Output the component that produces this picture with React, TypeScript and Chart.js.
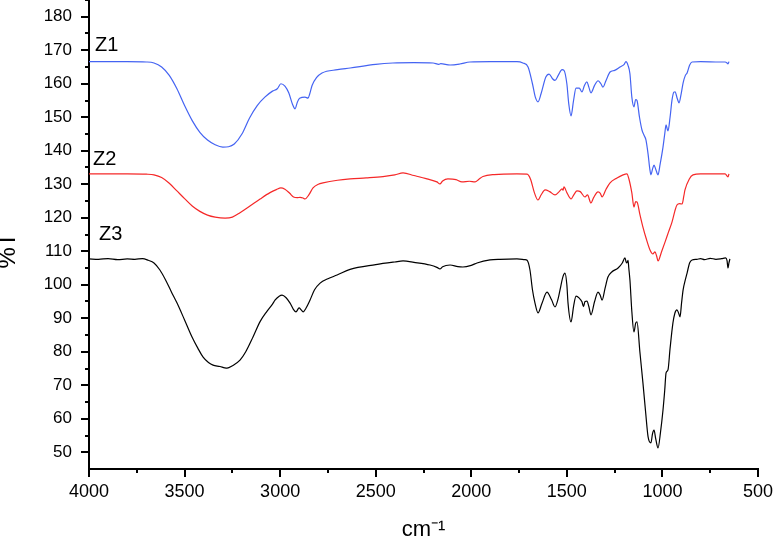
import React, { useEffect, useRef } from "react";
import { Chart, registerables } from "chart.js";

Chart.register(...registerables);

// ---- Data (wavenumber cm-1, %T) ----
const z1Wavenumbers = [4000, 3900, 3800, 3700, 3660, 3620, 3580, 3540, 3500, 3460, 3420, 3380, 3340, 3300, 3270, 3240, 3200, 3160, 3120, 3080, 3040, 3015, 2996, 2975, 2955, 2935, 2922, 2910, 2898, 2870, 2854, 2845, 2833, 2810, 2781, 2700, 2634, 2500, 2410, 2300, 2200, 2170, 2160, 2111, 2060, 2007, 1900, 1761, 1730, 1703, 1680, 1665, 1651, 1635, 1610, 1593, 1575, 1562, 1545, 1525, 1515, 1500, 1490, 1478, 1465, 1452, 1435, 1421, 1408, 1395, 1385, 1374, 1355, 1337, 1322, 1311, 1295, 1274, 1250, 1222, 1200, 1191, 1180, 1170, 1160, 1149, 1140, 1133, 1120, 1107, 1095, 1086, 1075, 1066, 1060, 1052, 1044, 1035, 1023, 1012, 997, 988, 981, 975, 971, 960, 950, 940, 934, 922, 913, 902, 892, 880, 871, 858, 845, 800, 700, 672, 662, 657, 652];
const z1Values = [166.6, 166.6, 166.6, 166.5, 166.2, 165.0, 162.5, 158.5, 153.5, 149.0, 145.5, 143.2, 141.8, 141.1, 141.2, 142.0, 145.0, 149.8, 153.5, 156.0, 157.8, 158.5, 160.0, 159.3, 157.3, 153.8, 152.5, 154.5, 155.7, 156.0, 155.7, 157.0, 159.5, 161.8, 163.2, 164.2, 164.7, 165.8, 166.2, 166.3, 166.2, 165.8, 166.0, 165.6, 165.9, 166.5, 166.6, 166.6, 166.2, 165.0, 160.0, 156.0, 154.6, 157.0, 162.0, 162.9, 161.5, 161.0, 162.5, 164.2, 164.0, 160.0, 154.0, 150.4, 155.0, 158.7, 158.7, 157.6, 159.5, 160.6, 159.0, 157.3, 159.5, 160.9, 160.0, 159.0, 161.0, 163.5, 164.0, 165.0, 165.8, 166.6, 165.5, 163.0, 156.0, 153.1, 155.3, 155.0, 150.0, 146.2, 144.5, 143.2, 139.0, 134.5, 132.8, 134.5, 135.7, 134.5, 132.8, 136.0, 141.1, 145.0, 147.7, 146.5, 145.9, 150.0, 155.1, 157.5, 157.6, 155.5, 154.3, 157.0, 160.2, 162.5, 163.2, 165.5, 166.5, 166.6, 166.5, 166.5, 166.2, 165.9, 166.6];

const z2Wavenumbers = [4000, 3800, 3700, 3660, 3620, 3580, 3540, 3500, 3460, 3420, 3380, 3340, 3288, 3250, 3210, 3158, 3105, 3053, 3020, 2996, 2975, 2950, 2930, 2910, 2896, 2880, 2870, 2850, 2828, 2800, 2776, 2700, 2634, 2550, 2462, 2400, 2357, 2300, 2232, 2180, 2164, 2150, 2122, 2080, 2049, 2010, 1980, 1960, 1939, 1880, 1761, 1708, 1690, 1670, 1651, 1635, 1614, 1590, 1562, 1540, 1525, 1520, 1515, 1500, 1478, 1462, 1447, 1430, 1405, 1392, 1374, 1360, 1337, 1325, 1316, 1295, 1274, 1240, 1206, 1186, 1175, 1160, 1149, 1140, 1133, 1118, 1102, 1085, 1065, 1050, 1039, 1030, 1023, 1005, 986, 968, 950, 935, 924, 910, 897, 888, 882, 860, 840, 800, 700, 672, 657, 652];
const z2Values = [133.1, 133.1, 133.0, 132.8, 132.0, 130.3, 128.0, 125.7, 123.5, 121.9, 120.8, 120.2, 119.9, 120.2, 121.5, 123.5, 125.6, 127.5, 128.4, 128.9, 128.5, 127.3, 126.2, 126.0, 126.1, 125.9, 125.6, 126.8, 128.9, 130.0, 130.4, 131.2, 131.6, 131.9, 132.3, 132.8, 133.4, 132.6, 131.6, 130.7, 130.1, 131.0, 131.6, 131.4, 130.7, 130.9, 130.7, 131.5, 132.3, 132.9, 133.1, 133.0, 131.5, 127.5, 125.3, 126.8, 128.3, 127.8, 126.8, 127.8, 128.6, 128.2, 129.2, 127.5, 125.6, 127.0, 128.0, 127.8, 126.2, 126.8, 124.4, 126.0, 127.7, 127.3, 126.2, 128.5, 130.4, 131.8, 132.8, 133.1, 131.5, 127.4, 123.2, 124.8, 124.7, 121.0, 117.2, 113.8, 110.4, 109.2, 109.8, 108.5, 107.1, 109.8, 112.8, 115.8, 118.7, 122.0, 123.8, 124.2, 124.1, 126.5, 128.3, 131.5, 132.8, 133.1, 133.1, 133.1, 132.2, 133.1];

const z3Wavenumbers = [4000, 3950, 3900, 3850, 3800, 3760, 3720, 3690, 3660, 3629, 3600, 3570, 3540, 3500, 3461, 3430, 3403, 3375, 3351, 3315, 3290, 3278, 3250, 3210, 3180, 3142, 3105, 3070, 3040, 3027, 3005, 2990, 2970, 2948, 2930, 2917, 2901, 2890, 2880, 2865, 2844, 2820, 2791, 2750, 2702, 2634, 2500, 2400, 2357, 2300, 2216, 2180, 2164, 2150, 2111, 2070, 2044, 2000, 1970, 1902, 1850, 1761, 1720, 1708, 1693, 1680, 1667, 1651, 1630, 1604, 1580, 1562, 1545, 1536, 1520, 1510, 1500, 1494, 1478, 1465, 1452, 1435, 1421, 1413, 1405, 1395, 1385, 1374, 1355, 1337, 1325, 1316, 1300, 1285, 1265, 1232, 1210, 1196, 1190, 1186, 1180, 1176, 1170, 1160, 1149, 1140, 1133, 1118, 1102, 1088, 1075, 1060, 1052, 1044, 1035, 1023, 1010, 997, 988, 981, 971, 960, 945, 935, 924, 915, 908, 900, 892, 880, 871, 858, 845, 820, 800, 780, 750, 720, 690, 670, 662, 657, 652, 647];
const z3Values = [107.7, 107.6, 107.8, 107.5, 107.7, 107.6, 107.8, 107.3, 106.5, 104.4, 101.5, 98.0, 94.6, 89.5, 84.4, 81.0, 78.4, 76.8, 76.0, 75.6, 75.2, 75.1, 75.8, 77.5, 80.0, 84.4, 89.0, 92.0, 94.2, 95.4, 96.6, 96.9, 96.2, 94.5, 92.6, 91.9, 93.1, 92.5, 91.9, 93.0, 95.4, 98.5, 100.5, 101.8, 102.9, 104.6, 106.0, 106.8, 107.1, 106.7, 105.9, 105.2, 104.7, 105.4, 105.9, 105.4, 105.3, 105.8, 106.5, 107.4, 107.6, 107.7, 107.5, 107.3, 104.4, 98.5, 94.6, 91.6, 94.5, 97.8, 95.5, 93.4, 96.0, 98.4, 102.5, 103.5, 100.0, 94.6, 88.9, 93.5, 96.6, 96.0, 94.9, 93.5, 95.0, 95.1, 93.5, 91.0, 95.0, 97.8, 96.8, 95.4, 99.0, 102.3, 103.8, 105.0, 106.5, 108.0, 106.8, 106.5, 107.3, 105.0, 101.4, 92.0, 85.9, 88.5, 88.9, 80.0, 70.7, 62.0, 54.6, 52.8, 55.5, 56.6, 54.0, 51.3, 56.0, 62.6, 68.5, 73.7, 74.6, 81.0, 88.6, 91.5, 92.5, 91.5, 90.4, 94.5, 98.4, 101.5, 103.5, 106.5, 107.4, 107.6, 107.8, 107.5, 107.9, 107.6, 107.8, 108.0, 107.2, 105.0, 106.5, 107.7];

const seriesNames = ["Z1", "Z2", "Z3"];
const seriesColors = ["#4463f2", "#f52828", "#000000"];
const labelWavenumbers = [3969, 3979, 3948];
const labelValues = [171.3, 137.4, 115.1];

const xTickValues = [4000, 3500, 3000, 2500, 2000, 1500, 1000, 500];
const yTickValues = [50, 60, 70, 80, 90, 100, 110, 120, 130, 140, 150, 160, 170, 180];
const xMinorStep = 250;
const yMinorStep = 5;
const yAxisTitle = "%T";
const xAxisTitle = "cm⁻¹";

const FONT = "'Liberation Sans', Arial, sans-serif";

const toPoints = (xs: number[], ys: number[]) => xs.map((x, i) => ({ x, y: ys[i] }));

const ticksPlugin = {
  id: "customTicks",
  afterDraw(chart: any) {
    const ctx = chart.ctx;
    const xs = chart.scales.x;
    const ys = chart.scales.y;
    ctx.save();
    ctx.strokeStyle = "#000";
    ctx.lineWidth = 2;
    ctx.beginPath();
    for (let v = xs.min; v <= xs.max; v += xMinorStep) {
      const px = Math.round(xs.getPixelForValue(v));
      const len = v % 500 === 0 ? 8 : 4;
      ctx.moveTo(px, ys.bottom);
      ctx.lineTo(px, ys.bottom + len);
    }
    for (let v = 50; v <= ys.max; v += yMinorStep) {
      const py = Math.round(ys.getPixelForValue(v));
      const len = v % 10 === 0 ? 8 : 4;
      ctx.moveTo(xs.left, py);
      ctx.lineTo(xs.left - len, py);
    }
    ctx.stroke();
    // series labels
    ctx.fillStyle = "#000";
    ctx.font = `20px ${FONT}`;
    ctx.textAlign = "left";
    ctx.textBaseline = "middle";
    seriesNames.forEach((n, i) => {
      ctx.fillText(n, xs.getPixelForValue(labelWavenumbers[i]), ys.getPixelForValue(labelValues[i]));
    });
    // y axis title
    ctx.save();
    ctx.translate(8, (ys.top + ys.bottom) / 2 + 16);
    ctx.rotate(-Math.PI / 2);
    ctx.font = `24px ${FONT}`;
    ctx.textAlign = "center";
    ctx.textBaseline = "middle";
    ctx.fillText(yAxisTitle, 0, 0);
    ctx.restore();
    ctx.restore();
  },
};

const zeroPadding = (s: any) => {
  s.paddingTop = 0;
  s.paddingBottom = 0;
  s.paddingLeft = 0;
  s.paddingRight = 0;
};

export default function App() {
  const canvasRef = useRef<HTMLCanvasElement | null>(null);

  useEffect(() => {
    const canvas = canvasRef.current;
    if (!canvas) return;
    const chart = new Chart(canvas, {
      type: "line",
      data: {
        datasets: [
          { label: "Z1", data: toPoints(z1Wavenumbers, z1Values), borderColor: seriesColors[0] },
          { label: "Z2", data: toPoints(z2Wavenumbers, z2Values), borderColor: seriesColors[1] },
          { label: "Z3", data: toPoints(z3Wavenumbers, z3Values), borderColor: seriesColors[2] },
        ].map((d) => ({
          ...d,
          borderWidth: 1.2,
          pointRadius: 0,
          fill: false,
          cubicInterpolationMode: "monotone" as const,
        })),
      },
      options: {
        animation: false,
        responsive: false,
        devicePixelRatio: 1,
        layout: { autoPadding: false, padding: { left: 0, right: 15, top: 0, bottom: 0 } },
        plugins: { legend: { display: false }, tooltip: { enabled: false } },
        scales: {
          x: {
            type: "linear",
            reverse: true,
            min: 500,
            max: 4000,
            afterBuildTicks: (s: any) => {
              s.ticks = xTickValues.map((v) => ({ value: v }));
            },
            afterFit: (s: any) => {
              s.height = 69;
              zeroPadding(s);
            },
            grid: { display: false, drawTicks: false },
            border: { display: true, color: "#000", width: 2 },
            ticks: {
              padding: 12,
              maxRotation: 0,
              autoSkip: false,
              color: "#000",
              font: { family: FONT, size: 18 },
              callback: (v: any) => String(v),
            },
            title: {
              display: true,
              text: xAxisTitle,
              color: "#000",
              font: { family: FONT, size: 22, lineHeight: 0.7 },
              padding: { top: 0, bottom: 0 },
            },
          },
          y: {
            type: "linear",
            min: 45,
            max: 185,
            afterBuildTicks: (s: any) => {
              s.ticks = yTickValues.map((v) => ({ value: v }));
            },
            afterFit: (s: any) => {
              s.width = 89;
              zeroPadding(s);
            },
            grid: { display: false, drawTicks: false },
            border: { display: true, color: "#000", width: 2 },
            ticks: {
              padding: 17,
              autoSkip: false,
              color: "#000",
              font: { family: FONT, size: 17 },
              callback: (v: any) => String(v),
            },
            title: { display: false },
          },
        },
      },
      plugins: [ticksPlugin],
    });
    return () => chart.destroy();
  }, []);

  return (
    <div style={{ position: "fixed", left: 0, top: 0, width: 773, height: 538, background: "#fff" }}>
      <canvas ref={canvasRef} width={773} height={538} style={{ width: 773, height: 538 }} />
    </div>
  );
}
